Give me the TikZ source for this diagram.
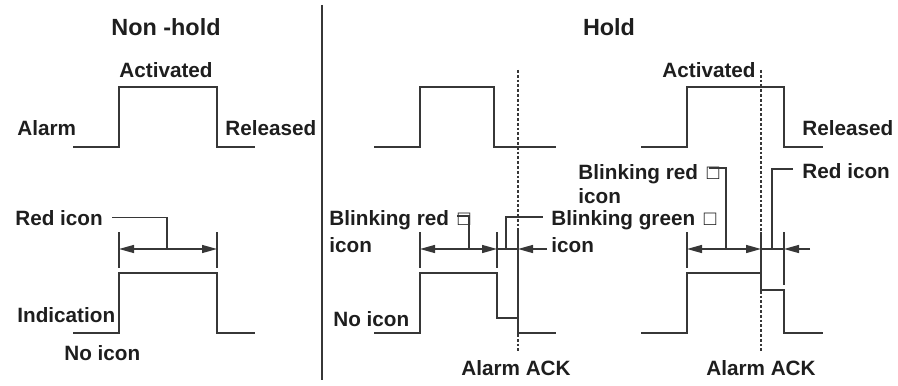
\documentclass[tikz,border=0pt]{standalone}
\usepackage{fontspec}
\setmainfont{Liberation Sans}
\usetikzlibrary{arrows.meta,positioning}
\definecolor{tratto}{RGB}{55,55,55}
\definecolor{testo}{RGB}{30,30,30}

\begin{document}
\begin{tikzpicture}[
    x=0.5pt, y=-0.5pt,
    onda/.style={draw=tratto, line width=0.8pt},
    tacca/.style={draw=tratto, line width=0.7pt},
    quota/.style={draw=tratto, line width=0.7pt, {Triangle[length=7.5pt,width=4pt]}-{Triangle[length=7.5pt,width=4pt]}},
    freccia/.style={draw=tratto, line width=0.7pt, -{Triangle[length=7.5pt,width=4pt]}},
    richiamo/.style={draw=tratto, line width=0.6pt},
    ack/.style={draw=tratto, line width=0.6pt, dash pattern=on 1.4pt off 1pt},
    lbl/.style={font=\fontsize{10.35}{13.5}\selectfont\bfseries, text=testo, inner sep=0pt, align=left},
    titolo/.style={font=\fontsize{11.7}{14}\selectfont\bfseries, text=testo, inner sep=0pt}
]
\useasboundingbox (0,0) rectangle (898,385);

% Titoli
\node[titolo, anchor=base] (nonhold) at (166,36) {Non -hold};
\node[titolo, anchor=base] (hold) at (609,36) {Hold};
\coordinate (divtop) at (322,5);
\coordinate (divbot) at (322,380);
\draw[draw=tratto, line width=0.8pt] (divtop) -- (divbot);

% Non-hold: allarme
\draw[onda] (73,147) -- (119,147) -- (119,87) -- (217,87) -- (217,147) -- (255,147);
\node[lbl, anchor=base] (att1) at (166,77) {Activated};
\node[lbl, anchor=base west] (alarm) at (17,135) {Alarm};
\node[lbl, anchor=base west] (ril1) at (225,135) {Released};

% Non-hold: indicazione
\draw[onda] (73,333) -- (119,333) -- (119,273) -- (217,273) -- (217,333) -- (255,333);
\coordinate (a1) at (119,249);
\coordinate (b1) at (217,249);
\draw[tacca] (119,232) -- (119,268);
\draw[tacca] (217,232) -- (217,268);
\draw[quota] (a1) -- (b1);
\node[lbl, anchor=base west] (red1) at (15,225) {Red icon};
\coordinate (m1) at (167,249);
\draw[richiamo] (m1) |- ([xshift=4.5pt]red1.east);
\node[lbl, anchor=base west] (ind) at (17,322) {Indication};
\node[lbl, anchor=base west] (noic1) at (64,360) {No icon};

% Hold: allarme (ACK dopo il rilascio)
\draw[onda] (374,147) -- (420,147) -- (420,87) -- (494,87) -- (494,147) -- (556,147);
\coordinate (ack2top) at (518,70);
\coordinate (ack2bot) at (518,352);
\draw[ack] (ack2top) -- (ack2bot);

% Hold: indicazione (ACK dopo il rilascio)
\draw[onda] (374,333) -- (420,333) -- (420,273) -- (497,273) -- (497,318) -- (518,318) -- (518,333) -- (556,333);
\coordinate (a2) at (420,249);
\coordinate (b2) at (497,249);
\coordinate (c2) at (518,249);
\coordinate (d2) at (547,249);
\draw[tacca] (420,232) -- (420,268);
\draw[tacca] (497,232) -- (497,268);
\draw[tacca] (518,230) -- (518,333);
\draw[quota] (a2) -- (b2);
\draw[tacca] (b2) -- (c2);
\draw[freccia] (d2) -- (c2);
\node[lbl, anchor=base west] (blred2) at (329,252) {Blinking red\kern1.5pt{} □\\icon};
\draw[richiamo] (469,249) |- (457,216);
\node[lbl, anchor=base west] (blgreen2) at (551,252) {Blinking green\kern1.5pt{} □\\icon};
\draw[richiamo] (506,249) |- (543,217);
\node[lbl, anchor=base west] (noic2) at (333,326) {No icon};
\node[lbl, anchor=base] (ackl2) at (516,375) {Alarm ACK};

% Hold: allarme (ACK prima del rilascio)
\draw[onda] (641,147) -- (687,147) -- (687,87) -- (784,87) -- (784,147) -- (823,147);
\coordinate (ack3top) at (761,70);
\coordinate (ack3bot) at (761,353);
\draw[ack] (ack3top) -- (ack3bot);
\node[lbl, anchor=base east] (att3) at (756,77) {Activated};
\node[lbl, anchor=base west] (ril3) at (802,135) {Released};

% Hold: indicazione (ACK prima del rilascio)
\draw[onda] (641,333) -- (687,333) -- (687,273) -- (761,273) -- (761,290) -- (784,290) -- (784,333) -- (823,333);
\coordinate (a3) at (687,249);
\coordinate (b3) at (761,249);
\coordinate (c3) at (784,249);
\coordinate (d3) at (810,249);
\draw[tacca] (687,232) -- (687,268);
\draw[tacca] (761,232) -- (761,273);
\draw[tacca] (784,232) -- (784,285);
\draw[quota] (a3) -- (b3);
\draw[tacca] (b3) -- (c3);
\draw[freccia] (d3) -- (c3);
\node[lbl, anchor=base west] (blred3) at (578,203) {Blinking red\kern1.5pt{} □\\[-1.5pt]icon};
\draw[richiamo] (726,248) |- (709,168);
\node[lbl, anchor=base west] (red3) at (802,178) {Red icon};
\draw[richiamo] (772,249) |- ([xshift=-4.5pt]red3.west |- 0,169);
\node[lbl, anchor=base] (ackl3) at (761,375) {Alarm ACK};

\end{tikzpicture}
\end{document}
